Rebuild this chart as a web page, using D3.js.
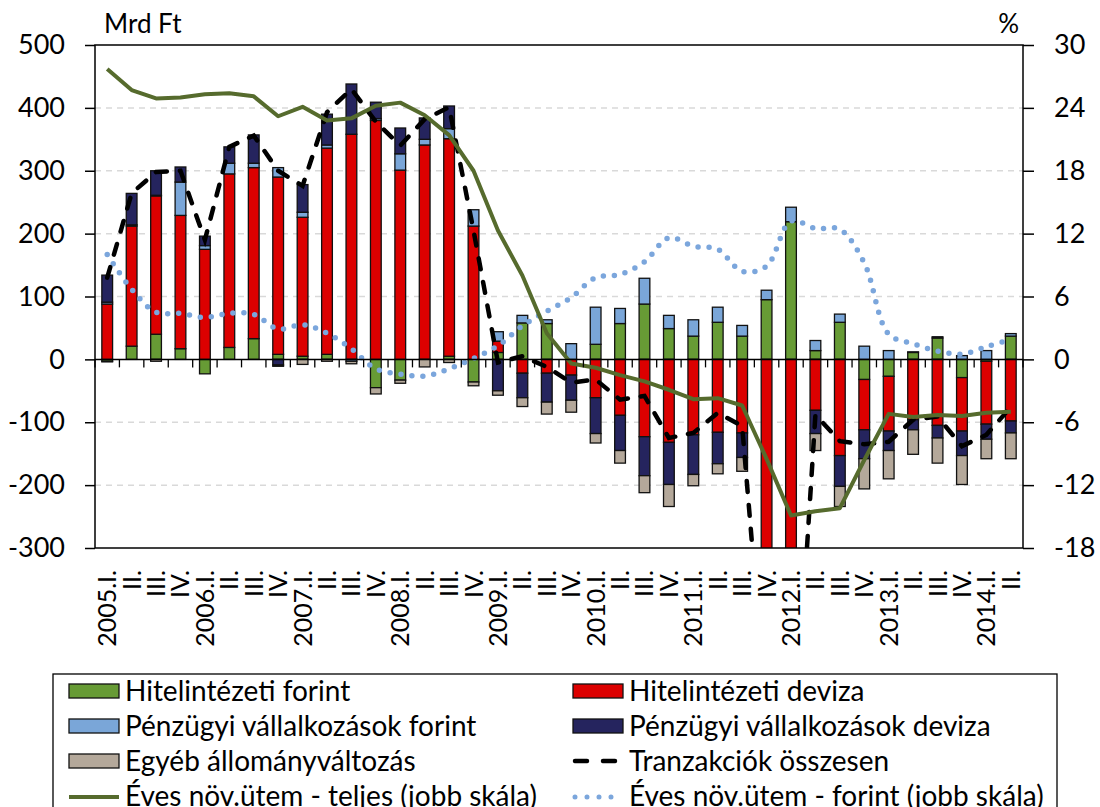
<!DOCTYPE html>
<html>
<head>
<meta charset="utf-8">
<script src="https://cdn.jsdelivr.net/npm/d3@7"></script>
<style>
  body { margin: 0; background: #fff; }
  svg { display: block; font-family: Lato, "Open Sans", sans-serif; }
</style>
</head>
<body>
<svg id="chart" width="1100" height="807"></svg>
<script>

const quarters = ["2005.I.", "II.", "III.", "IV.", "2006.I.", "II.", "III.", "IV.",
    "2007.I.", "II.", "III.", "IV.", "2008.I.", "II.", "III.", "IV.",
    "2009.I.", "II.", "III.", "IV.", "2010.I.", "II.", "III.", "IV.",
    "2011.I.", "II.", "III.", "IV.", "2012.I.", "II.", "III.", "IV.",
    "2013.I.", "II.", "III.", "IV.", "2014.I.", "II."]

// Mrd Ft, bal skála
const hitForint = [-3, 21, 40, 17, -23, 19, 33, 8, 5, 8, 0, -45, -33, 0, 5, -36,
    11, 58, 57, 0, 24, 57, 88, 49, 37, 59, 37, 95, 219, 14, 59, -32, -27, 11, 34, -29, -3, 37]
const hitDeviza = [88, 191, 220, 212, 175, 276, 272, 282, 221, 328, 358, 380, 301, 341, 346, 212,
    18, -22, -22, -25, -61, -89, -123, -132, -120, -116, -117, -640, -912, -81, -153, -80, -87, -96, -105, -85, -100, -98]
const penzForint = [3, 2, 1, 53, 6, 17, 7, 15, 8, 5, -3, 3, 26, 9, 16, 26,
    15, 12, 6, 25, 59, 24, 41, 21, 26, 24, 17, 15, 23, 16, 13, 21, 14, 1, 2, 6, 14, 4]
const penzDeviza = [43, 50, 39, 24, 15, 26, 45, -9, 44, 49, 80, 26, 41, 34, 36, 0,
    -50, -39, -46, -40, -57, -56, -62, -67, -63, -50, -39, -40, -30, -37, -49, -46, -31, -16, -20, -39, -24, -19]
const egyeb = [-1, 0, -3, 0, 0, 0, 0, -2, -8, -3, -4, -10, -5, -12, -5, -6,
    -7, -14, -19, -19, -15, -20, -27, -35, -18, -16, -22, -20, -10, -27, -32, -48, -45, -39, -40, -46, -31, -41]
const tranzakciok = [130, 264, 298, 300, 190, 338, 356, 300, 276, 393, 430, 378, 340, 382, 401, 205,
    -5, 5, -12, -37, -32, -64, -58, -125, -117, -85, -106, -570, -700, -88, -130, -135, -131, -96, -91, -138, -120, -76]

// %, jobb skála
const novTeljes = [27.7, 25.7, 24.9, 25.0, 25.3, 25.4, 25.1, 23.2, 24.1, 22.8, 23.0, 24.2, 24.5, 23.3, 21.4, 18.0,
    12.3, 8.0, 2.5, -0.4, -0.8, -1.5, -2.1, -2.9, -3.8, -3.7, -4.4, -9.5, -14.9, -14.5, -14.2, -9.6, -5.2, -5.5, -5.3, -5.4, -5.1, -5.0]
const novForint = [10.0, 6.7, 4.5, 4.4, 4.0, 4.4, 4.3, 2.9, 3.3, 2.5, 1.0, -0.9, -1.4, -1.6, -0.9, 0.1,
    1.3, 3.2, 4.6, 5.9, 7.8, 8.1, 9.3, 11.6, 10.8, 10.5, 8.4, 8.9, 13.2, 12.5, 12.4, 9.2, 2.4, 1.5, 0.8, 0.5, 1.2, 1.9]

const leftTicks = [-300, -200, -100, 0, 100, 200, 300, 400, 500]
const rightTicks = [-18, -12, -6, 0, 6, 12, 18, 24, 30]

const seriesKeys = ["hf", "hd", "pf", "pd", "eg"]
const seriesNames = {
    hf: "Hitelintézeti forint",
    hd: "Hitelintézeti deviza",
    pf: "Pénzügyi vállalkozások forint",
    pd: "Pénzügyi vállalkozások deviza",
    eg: "Egyéb állományváltozás",
}
const colors = {
    hf: "#679b35",
    hd: "#dc0000",
    pf: "#7aa6d8",
    pd: "#25245e",
    eg: "#b4a89a",
    teljes: "#566b2d",
    forint: "#7ba6dc",
}

const plotL = 95, plotR = 1023, plotT = 45, plotB = 548

function buildRows() {
    return quarters.map((q, i) => ({
        i: i,
        q: q,
        hf: hitForint[i],
        hd: hitDeviza[i],
        pf: penzForint[i],
        pd: penzDeviza[i],
        eg: egyeb[i],
    }))
}

function draw() {
    const svg = d3.select("#chart")
    const rows = buildRows()

    const x = d3.scaleBand()
        .domain(d3.range(quarters.length))
        .range([plotL, plotR])
        .paddingInner(0.56)
        .paddingOuter(0.28)
    const step = x.step()
    const cx = i => x(i) + x.bandwidth() / 2

    const y = d3.scaleLinear().domain([-300, 500]).range([plotB, plotT])
    const y2 = d3.scaleLinear().domain([-18, 30]).range([plotB, plotT])

    svg.append("defs").append("clipPath").attr("id", "plotclip")
        .append("rect")
        .attr("x", plotL).attr("y", plotT)
        .attr("width", plotR - plotL).attr("height", plotB - plotT)

    // gridlines
    svg.append("g")
        .selectAll("line")
        .data(leftTicks.filter(d => d != 0 && d != -300 && d != 500))
        .enter()
        .append("line")
        .attr("x1", plotL).attr("x2", plotR)
        .attr("y1", d => y(d)).attr("y2", d => y(d))
        .attr("stroke", "#d9d9d9")
        .attr("stroke-width", 1.5)
        .attr("stroke-dasharray", "6,5")

    // stacked bars
    const stacked = d3.stack().keys(seriesKeys).offset(d3.stackOffsetDiverging)(rows)
    const plot = svg.append("g").attr("clip-path", "url(#plotclip)")

    plot.selectAll(".series")
        .data(stacked)
        .enter()
        .append("g")
        .attr("fill", s => colors[s.key])
        .selectAll("rect")
        .data(s => s.filter(d => d[1] - d[0] != 0))
        .enter()
        .append("rect")
        .attr("x", d => x(d.data.i))
        .attr("width", x.bandwidth())
        .attr("y", d => y(Math.max(d[0], d[1])))
        .attr("height", d => Math.abs(y(d[0]) - y(d[1])))
        .attr("stroke", "#111")
        .attr("stroke-width", 1.3)

    // zero line with category ticks
    svg.append("line")
        .attr("x1", plotL).attr("x2", plotR)
        .attr("y1", y(0)).attr("y2", y(0))
        .attr("stroke", "#000").attr("stroke-width", 1.5)
    svg.append("g")
        .selectAll("line")
        .data(d3.range(quarters.length + 1))
        .enter()
        .append("line")
        .attr("x1", i => plotL + i * step).attr("x2", i => plotL + i * step)
        .attr("y1", y(0)).attr("y2", y(0) + 8)
        .attr("stroke", "#000").attr("stroke-width", 1.3)

    // lines
    const lineTr = d3.line().x((d, i) => cx(i)).y(d => y(d))

    plot.append("path")
        .datum(novForint)
        .attr("d", d3.line().x((d, i) => cx(i)).y(d => y2(d)).curve(d3.curveCatmullRom))
        .attr("fill", "none")
        .attr("stroke", colors.forint)
        .attr("stroke-width", 5.5)
        .attr("stroke-linecap", "round")
        .attr("stroke-dasharray", "0,11")

    plot.append("path")
        .datum(tranzakciok)
        .attr("d", lineTr)
        .attr("fill", "none")
        .attr("stroke", "#000")
        .attr("stroke-width", 4.5)
        .attr("stroke-linecap", "round")
        .attr("stroke-dasharray", "11,13")

    plot.append("path")
        .datum(novTeljes)
        .attr("d", d3.line().x((d, i) => cx(i)).y(d => y2(d)))
        .attr("fill", "none")
        .attr("stroke", colors.teljes)
        .attr("stroke-width", 4)
        .attr("stroke-linejoin", "round")

    // frame
    svg.append("rect")
        .attr("x", plotL).attr("y", plotT)
        .attr("width", plotR - plotL).attr("height", plotB - plotT)
        .attr("fill", "none")
        .attr("stroke", "#000")
        .attr("stroke-width", 1.5)

    // axes
    const axisL = svg.append("g")
        .attr("transform", "translate(" + plotL + ",0)")
        .call(d3.axisLeft(y).tickValues(leftTicks).tickSize(10).tickPadding(20).tickFormat(d => String(d)))
    const axisR = svg.append("g")
        .attr("transform", "translate(" + plotR + ",0)")
        .call(d3.axisRight(y2).tickValues(rightTicks).tickSize(11).tickPadding(20).tickFormat(d => String(d)))
    ;[axisL, axisR].forEach(a => {
        a.select(".domain").remove()
        a.selectAll("line").attr("stroke", "#000").attr("stroke-width", 1.5)
        a.selectAll("text")
            .attr("font-family", "Lato, sans-serif")
            .attr("font-size", 27)
            .attr("fill", "#000")
    })

    svg.append("text")
        .attr("x", 104).attr("y", 33)
        .attr("font-size", 26)
        .text("Mrd Ft")
    svg.append("text")
        .attr("x", 1019).attr("y", 33)
        .attr("text-anchor", "end")
        .attr("font-size", 26)
        .text("%")

    // category labels
    svg.append("g")
        .selectAll("text")
        .data(rows)
        .enter()
        .append("text")
        .attr("transform", d => "translate(" + cx(d.i) + ",570) rotate(-90)")
        .attr("text-anchor", "end")
        .attr("dy", "0.36em")
        .attr("font-size", 25)
        .text(d => d.q)

    drawLegend(svg)
}

function drawLegend(svg) {
    const lg = svg.append("g")
    lg.append("rect")
        .attr("x", 53).attr("y", 674)
        .attr("width", 1004).attr("height", 160)
        .attr("fill", "#fff")
        .attr("stroke", "#000")
        .attr("stroke-width", 1.3)

    const items = [
        { col: 0, row: 0, type: "box", key: "hf" },
        { col: 1, row: 0, type: "box", key: "hd" },
        { col: 0, row: 1, type: "box", key: "pf" },
        { col: 1, row: 1, type: "box", key: "pd" },
        { col: 0, row: 2, type: "box", key: "eg" },
        { col: 1, row: 2, type: "dash", name: "Tranzakciók összesen" },
        { col: 0, row: 3, type: "solid", name: "Éves növ.ütem - teljes (jobb skála)" },
        { col: 1, row: 3, type: "dot", name: "Éves növ.ütem - forint (jobb skála)" },
    ]
    const colX = [69, 573]
    const rowY = d3.range(4).map(r => 691 + r * 35)

    const g = lg.selectAll(".item")
        .data(items)
        .enter()
        .append("g")
        .attr("transform", d => "translate(" + colX[d.col] + "," + rowY[d.row] + ")")

    g.filter(d => d.type == "box")
        .append("rect")
        .attr("x", 0).attr("y", -7)
        .attr("width", 50).attr("height", 14)
        .attr("fill", d => colors[d.key])
        .attr("stroke", "#111")
        .attr("stroke-width", 1.3)

    g.filter(d => d.type == "solid")
        .append("line")
        .attr("x1", 0).attr("x2", 50).attr("y1", 1).attr("y2", 1)
        .attr("stroke", colors.teljes).attr("stroke-width", 4)

    g.filter(d => d.type == "dash")
        .append("line")
        .attr("x1", 2).attr("x2", 48).attr("y1", 0).attr("y2", 0)
        .attr("stroke", "#000").attr("stroke-width", 4.5)
        .attr("stroke-linecap", "round")
        .attr("stroke-dasharray", "12,16")

    g.filter(d => d.type == "dot")
        .append("line")
        .attr("x1", 2).attr("x2", 50).attr("y1", 1).attr("y2", 1)
        .attr("stroke", colors.forint).attr("stroke-width", 5)
        .attr("stroke-linecap", "round")
        .attr("stroke-dasharray", "0,12")

    g.append("text")
        .attr("x", 56).attr("y", 0)
        .attr("dy", "0.36em")
        .attr("font-size", 28)
        .text(d => d.name || seriesNames[d.key])
}

draw()
</script>
</body>
</html>
